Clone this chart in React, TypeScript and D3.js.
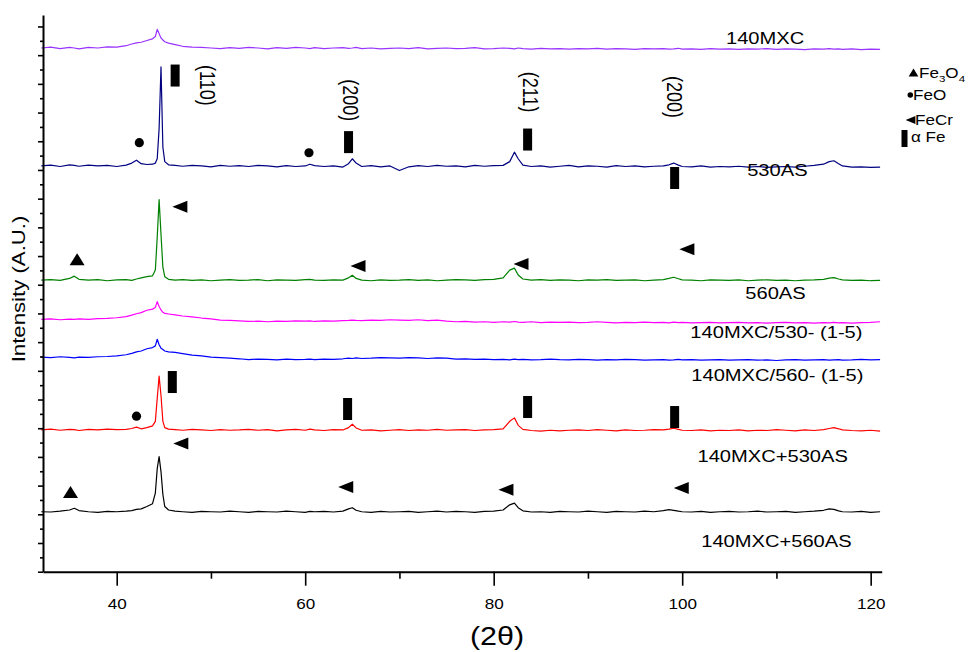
import React, { useEffect, useRef } from "react";
import * as d3 from "d3";

// diffraction angle grid (degrees 2-theta), denser around the reflections
const twoTheta = [
  32, 33, 34, 35, 35.5, 36, 37, 38, 39, 40,
  41, 41.6, 42.1, 42.6, 43.2, 43.8, 44.1, 44.3, 44.5, 44.7,
  44.9, 45.1, 45.5, 46.2, 47, 48, 49, 50, 51, 52,
  53, 54, 55, 56, 57, 58, 59, 60, 60.5, 61,
  62, 63, 64, 64.6, 65, 65.4, 66, 67, 68, 69,
  70, 71, 72, 73, 74, 75, 76, 77, 78, 79,
  80, 81, 81.7, 82.2, 82.6, 83.1, 84, 85, 86, 87,
  88, 89, 90, 91, 92, 93, 94, 95, 96, 97,
  98, 98.6, 99.1, 99.6, 100, 101, 102, 103, 104, 105,
  106, 107, 108, 109, 110, 111, 112, 113, 114, 115,
  115.6, 116.1, 116.6, 117, 118, 119, 120, 121,
];

// intensities above each pattern's own baseline (a.u.)
const mxc140 = [
  0, 3, -2, 2, 0, -3, 2, 0, 4, 3,
  8, 14, 18, 20, 26, 32, 40, 65, 50, 35,
  28, 22, 17, 12, 6, 3, 2, 0, -2, 1,
  -1, 2, 0, -3, 1, -1, 2, 0, -2, 1,
  -2, 0, 1, -1, 0, 2, -2, 0, -3, -1,
  0, -2, 1, -3, -1, 0, -2, -1, 1, -3,
  -2, 0, -1, -3, 0, -2, -4, -1, -3, -2,
  -4, -2, -3, -1, -4, -2, -3, -5, -2, -3,
  -2, -4, -3, -1, -4, -3, -5, -2, -4, -3,
  -5, -3, -4, -2, -5, -3, -4, -6, -3, -4,
  -2, -4, -3, -5, -3, -6, -4, -5,
];

const as530 = [
  0, 3, -2, 4, 2, -1, 3, 0, 2, -2,
  3, 10, 20, 8, 5, 6, 10, 25, 130, 345,
  65, 15, 4, 2, -1, 2, 0, -3, 2, -1,
  1, -2, 2, 0, -3, 1, -2, 0, 6, 1,
  -2, 0, -4, 8, 25, 10, -2, 1, -3, 0,
  -16, -3, 1, -2, 2, -1, 0, -3, 2, -1,
  1, 2, 15, 48, 25, 3, -2, 0, -4, -1,
  2, -3, 0, -1, -4, 1, -2, 0, -3, -1,
  0, 4, 10, 3, -2, -3, 0, -4, -2, -3,
  -1, -4, -2, -5, -3, -2, -4, -1, 2, 6,
  15, 18, 8, 0, -4, -3, -5, -4,
];

const as560 = [
  0, 2, -1, 6, 14, 3, 0, 2, -2, 1,
  2, -1, 4, 8, 12, 15, 35, 150, 281, 160,
  45, 12, 3, 0, 2, -1, 1, -2, 0, 2,
  -1, 0, 2, -2, 1, 0, -1, 2, 3, 0,
  -1, 1, 0, 8, 17, 6, 0, -2, 1, -1,
  0, 2, -1, 1, -2, 0, 2, 1, -1, 2,
  3, 8, 35, 42, 18, 4, 0, 2, -1, 1,
  0, -2, 1, 0, 2, -1, 0, 1, -2, 0,
  2, 6, 10, 5, 1, 0, -2, 1, 0, -1,
  1, -2, 0, 1, -1, 0, -2, 0, 1, 3,
  7, 9, 4, 1, -1, 0, -2, -1,
];

const mxc530 = [
  0, 2, -1, 1, 0, 2, 0, 3, 4, 6,
  10, 15, 20, 24, 32, 36, 42, 62, 45, 33,
  25, 21, 19, 16, 12, 9, 5, 2, -2, -3,
  -5, -7, -6, -8, -6, -7, -5, -6, -5, -7,
  -5, -6, -4, -3, -2, -3, -4, -2, -3, -1,
  -2, -3, -1, -4, -2, -6, -8, -7, -9, -8,
  -10, -8, -9, -7, -9, -10, -8, -11, -9, -10,
  -9, -11, -10, -8, -10, -12, -10, -11, -9, -11,
  -10, -12, -9, -11, -10, -12, -11, -10, -12, -11,
  -10, -12, -11, -13, -11, -10, -12, -11, -13, -11,
  -12, -10, -12, -11, -13, -11, -10, -8,
];

const mxc560 = [
  1, -1, 2, 0, -2, 1, 0, 2, 3, 5,
  9, 14, 19, 22, 30, 34, 40, 63, 44, 32,
  27, 22, 19, 17, 13, 8, 5, 1, -1, -3,
  -5, -8, -6, -7, -9, -6, -8, -7, -6, -8,
  -6, -7, -5, -3, -4, -2, -4, -3, -1, -2,
  -3, -1, -2, -4, -2, -3, -6, -5, -7, -6,
  -8, -7, -9, -6, -8, -7, -9, -8, -6, -8,
  -9, -7, -8, -10, -8, -9, -7, -8, -10, -9,
  -8, -10, -9, -7, -9, -8, -10, -9, -8, -10,
  -9, -8, -10, -9, -11, -9, -8, -10, -9, -8,
  -10, -9, -8, -10, -9, -7, -9, -8,
];

const mxcAs530 = [
  0, 3, -1, 2, 1, -2, 2, 0, 3, 1,
  2, 5, 10, 4, 8, 14, 30, 110, 188, 120,
  30, 8, 3, 1, -1, 2, 0, -2, 1, -1,
  0, 2, -1, 1, -3, 0, 2, -1, 3, 0,
  -2, 1, 0, 8, 20, 7, -1, 0, -3, -1,
  1, -2, 0, -1, 2, -1, 0, 1, -2, 0,
  1, 4, 30, 42, 16, 2, -2, -4, -1, -3,
  -1, 0, -2, 1, -1, -3, 0, -2, -1, 1,
  0, 3, 6, 2, -1, -2, 0, -3, -1, -2,
  0, -3, -1, -2, 1, -1, -3, 0, -2, 1,
  5, 8, 4, 0, -2, -3, -1, -4,
];

const mxcAs560 = [
  0, -1, 2, 6, 12, 4, 0, -2, 1, 0,
  2, 4, 8, 10, 18, 28, 65, 150, 192, 140,
  60, 18, 6, 2, 0, -2, 1, 0, -1, 2,
  0, -2, 1, 0, -1, 2, 0, -2, 1, 0,
  1, -1, 2, 10, 14, 5, 0, -2, 1, -1,
  0, 1, -2, 0, 2, -1, 1, 0, -2, 1,
  2, 6, 24, 30, 14, 3, -1, 0, -2, 1,
  0, -1, 2, 0, -2, 1, 0, -1, 2, 0,
  4, 7, 5, 2, 0, -1, 1, -2, 0, 1,
  -1, 0, 2, -1, 0, 1, -2, 0, 2, 5,
  10, 8, 3, 0, -1, 1, -2, 0,
];

const seriesNames = [
  "140MXC",
  "530AS",
  "560AS",
  "140MXC/530- (1-5)",
  "140MXC/560- (1-5)",
  "140MXC+530AS",
  "140MXC+560AS",
];
const seriesValues = [mxc140, as530, as560, mxc530, mxc560, mxcAs530, mxcAs560];
// vertical stacking offset of each pattern (a.u.)
const seriesOffsets = [1825, 1414, 1016, 879, 747, 494, 209];
const seriesColors = ["#9933ff", "#000080", "#008000", "#ff00ff", "#0000ff", "#ff0000", "#000000"];

// where each pattern's name sits: [2theta, a.u.]
const labelPos = [
  [108.8, 1838],
  [110.1, 1378],
  [109.9, 950],
  [110.0, 815],
  [110.1, 666],
  [109.6, 383],
  [110.0, 87],
];

// phase markers: kind, 2theta, a.u.
const phaseMarks = [
  ["bar", 46.2, 1729], ["dot", 42.4, 1495], ["dot", 60.4, 1460],
  ["bar", 64.6, 1497], ["bar", 83.6, 1506], ["bar", 99.2, 1372],
  ["left", 46.7, 1272], ["up", 35.8, 1089], ["left", 65.6, 1065],
  ["left", 82.9, 1072], ["left", 100.5, 1124],
  ["bar", 45.9, 661], ["dot", 42.1, 542], ["bar", 64.5, 567],
  ["bar", 83.6, 574], ["bar", 99.2, 539],
  ["left", 46.8, 447], ["up", 35.1, 278], ["left", 64.3, 295],
  ["left", 81.3, 286], ["left", 99.9, 292],
];

// Miller indices written above the alpha-Fe reflections
const hklLabels = [
  ["(110)", 49.7, 1695],
  ["(200)", 64.9, 1643],
  ["(211)", 84.0, 1671],
  ["(200)", 99.2, 1654],
];

const xMajorTicks = [40, 60, 80, 100, 120];
const xMinorTicks = [50, 70, 90, 110];

const W = 977;
const H = 652;
const SX = 1.22; // horizontal stretch of the original lettering
const FONT = "Liberation Sans, Arial, Helvetica, sans-serif";

const x = d3.scaleLinear().domain([32.18, 121.17]).range([43, 881.7]);
const y = d3.scaleLinear().domain([0, 1940]).range([571.7, 15]);

const markPath = (kind, s = 1) => {
  if (kind === "up") return `M0,${-6 * s}L${7.5 * s},${6 * s}L${-7.5 * s},${6 * s}Z`;
  if (kind === "left") return `M${-7.5 * s},0L${7.5 * s},${-6 * s}L${7.5 * s},${6 * s}Z`;
  return null;
};

const Mark = ({ kind, cx, cy, s = 1 }) => {
  if (kind === "dot") return <circle cx={cx} cy={cy} r={4.6 * s} fill="#000" />;
  if (kind === "bar")
    return <rect x={cx - 4.5 * s} y={cy - 11 * s} width={9 * s} height={22 * s} fill="#000" />;
  return <path transform={`translate(${cx},${cy})`} d={markPath(kind, s)} fill="#000" />;
};

const SText = ({ tx, ty, size, anchor = "middle", rot = 0, children }) => (
  <text
    transform={`translate(${tx},${ty}) scale(${SX},1) rotate(${rot})`}
    fontSize={size}
    textAnchor={anchor}
    fill="#000"
  >
    {children}
  </text>
);

const App = () => {
  const axisRef = useRef(null);

  useEffect(() => {
    const g = d3.select(axisRef.current);
    g.selectAll("*").remove();

    const xMinor = g.append("g").attr("transform", `translate(0,${y(0)})`)
      .call(d3.axisBottom(x).tickValues(xMinorTicks).tickSize(7).tickSizeOuter(0).tickFormat(() => ""));
    xMinor.select(".domain").remove();

    const xMajor = g.append("g").attr("transform", `translate(0,${y(0)})`)
      .call(d3.axisBottom(x).tickValues(xMajorTicks).tickSize(14).tickSizeOuter(0).tickFormat(d3.format("d")));
    xMajor.selectAll("text")
      .attr("y", 37).attr("dy", 0)
      .attr("transform", `scale(${SX},1)`)
      .attr("font-size", 14)
      .attr("font-family", FONT)
      .attr("fill", "#000");

    const yMinor = g.append("g").attr("transform", `translate(${x.range()[0]},0)`)
      .call(d3.axisLeft(y).tickValues(d3.range(50, 1940, 100)).tickSize(3).tickSizeOuter(0).tickFormat(() => ""));
    yMinor.select(".domain").remove();

    g.append("g").attr("transform", `translate(${x.range()[0]},0)`)
      .call(d3.axisLeft(y).tickValues(d3.range(0, 1901, 100)).tickSize(5).tickSizeOuter(0).tickFormat(() => ""));

    g.selectAll(".domain").attr("stroke", "#000").attr("stroke-width", 2);
    g.selectAll(".tick line").attr("stroke", "#000").attr("stroke-width", 1.6);
  }, []);

  const line = d3.line().x((d) => x(d[0])).y((d) => y(d[1]));

  return (
    <svg
      width={W}
      height={H}
      style={{ position: "absolute", left: 0, top: 0, background: "#fff" }}
      fontFamily={FONT}
    >
      <g className="curves">
        {seriesValues.map((vals, i) => (
          <path
            key={seriesNames[i]}
            d={line(twoTheta.map((t, j) => [t, vals[j] + seriesOffsets[i]]))}
            fill="none"
            stroke={seriesColors[i]}
            strokeWidth={1.2}
            strokeLinejoin="round"
          />
        ))}
      </g>

      <g ref={axisRef} />

      <g className="names">
        {seriesNames.map((n, i) => (
          <SText key={n} tx={x(labelPos[i][0])} ty={y(labelPos[i][1])} size={16.5}>
            {n}
          </SText>
        ))}
      </g>

      <g className="marks">
        {phaseMarks.map(([k, t, v], i) => (
          <Mark key={i} kind={k} cx={x(t)} cy={y(v)} />
        ))}
        {hklLabels.map(([s, t, v], i) => (
          <SText key={i} tx={x(t) - 8} ty={y(v)} size={18} rot={90}>
            {s}
          </SText>
        ))}
      </g>

      <g className="legend">
        <Mark kind="up" cx={913.5} cy={72.5} s={0.65} />
        <text transform={`translate(919,78) scale(${SX},1)`} fontSize={14}>
          Fe<tspan dy={4} fontSize={9.5}>3</tspan>
          <tspan dy={-4}>O</tspan>
          <tspan dy={4} fontSize={9.5}>4</tspan>
        </text>
        <Mark kind="dot" cx={910.3} cy={95} s={0.6} />
        <SText tx={913} ty={100} size={14} anchor="start">FeO</SText>
        <Mark kind="left" cx={910.5} cy={120} s={0.65} />
        <SText tx={915} ty={125} size={14} anchor="start">FeCr</SText>
        <rect x={901.5} y={130} width={6} height={17} fill="#000" />
        <SText tx={911} ty={142} size={14} anchor="start">α Fe</SText>
      </g>

      <text
        transform="translate(25,289) rotate(-90) scale(1.2,1)"
        fontSize={18.5}
        textAnchor="middle"
        fill="#000"
      >
        Intensity (A.U.)
      </text>
      <SText tx={497} ty={645} size={25}>(2θ)</SText>
    </svg>
  );
};

export default App;
